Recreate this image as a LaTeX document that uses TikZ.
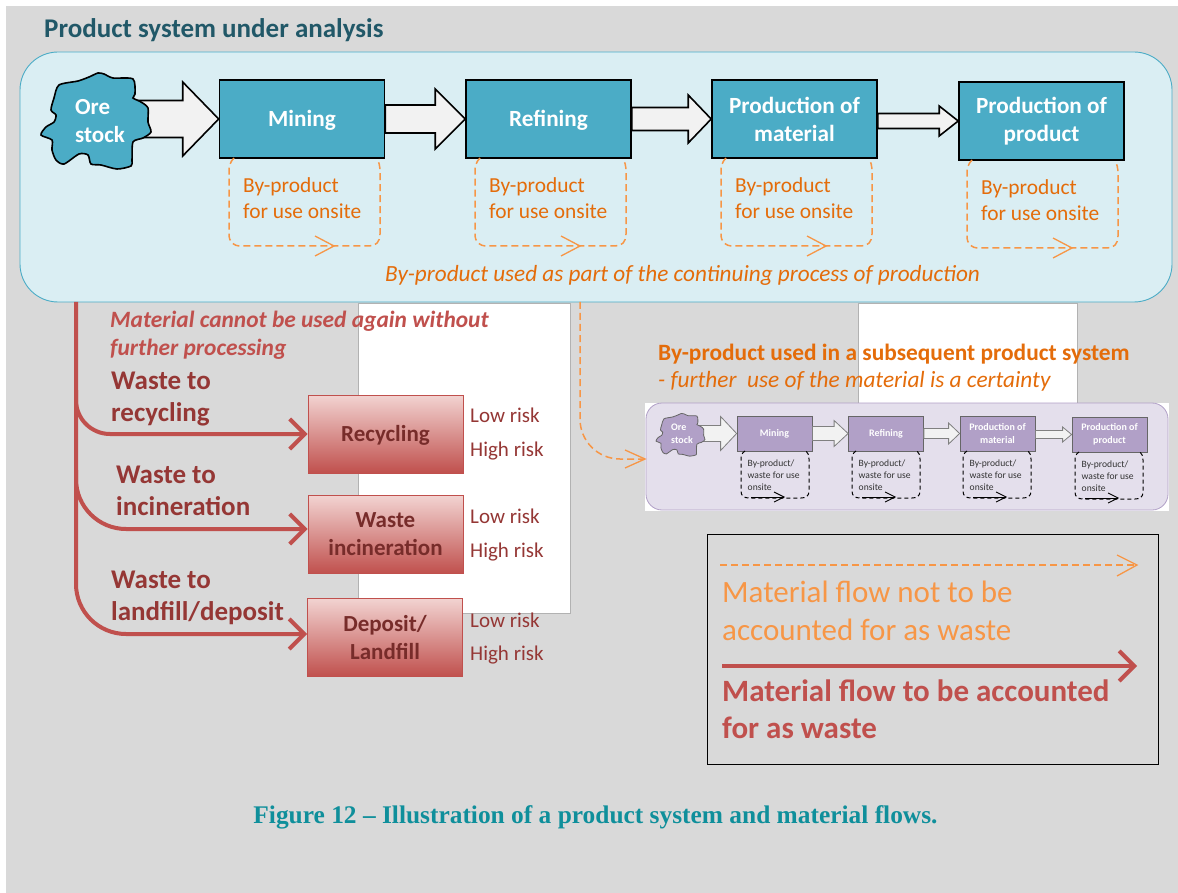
\documentclass[tikz,border=0pt]{standalone}
\usepackage{fontspec}
\usepackage{tikz}
\usetikzlibrary{arrows.meta,calc}
\setmainfont{Carlito}
\newfontfamily\captionfont{Liberation Serif}
\definecolor{panelblue}{HTML}{DAEEF3}
\definecolor{boxblue}{HTML}{4BACC6}
\definecolor{titleteal}{HTML}{215868}
\definecolor{byorange}{HTML}{E46C0A}
\definecolor{flowtan}{HTML}{F79646}
\definecolor{wastered}{HTML}{C0504D}
\definecolor{darkred}{HTML}{953735}
\definecolor{boxred}{HTML}{772C2A}
\definecolor{pinktop}{HTML}{F2D3D1}
\definecolor{panellilac}{HTML}{E4DFEC}
\definecolor{boxlilac}{HTML}{B1A0C7}
\definecolor{captionteal}{HTML}{0F8F9B}

\newcommand{\blockarrow}[6][]{
\draw[#1] let \p1=(#2), \p2=(#3) in
  (\x1, \y2+#4pt) -- (\x2-#6pt, \y2+#4pt) -- (\x2-#6pt, \y2+#5pt) -- (\x2, \y2)
  -- (\x2-#6pt, \y2-#5pt) -- (\x2-#6pt, \y2-#4pt) -- (\x1, \y2-#4pt) -- cycle;
}
\newcommand{\orepath}{plot[smooth cycle, tension=0.45] coordinates {(57,1) (63,2) (72,6) (92,7) (94,22) (92,26) (100,30)
  (107,36) (107,50) (110,60) (102,66) (92,70) (91,88) (90,94) (76,97) (60,93) (50,92) (47,83) (38,82) (23,92)
  (15,88) (11,78) (11,68) (0,63) (5,55) (13,50) (15,43) (10,38) (13,26) (18,13) (37,9) (48,5)}}

\begin{document}
\begin{tikzpicture}[x=1pt, y=-1pt,
  greyback/.style={fill=black!15, draw=none},
  whitesheet/.style={fill=white, draw=black!30, line width=0.6pt},
  processbox/.style={draw=black, line width=1.6pt, fill=boxblue, minimum width=165pt, minimum height=78pt,
    text=white, align=center, font=\fontsize{23.2}{28}\selectfont\bfseries,
    execute at begin node={\rule{0pt}{19pt}}},
  smallbox/.style={draw=black!60, line width=0.8pt, fill=boxlilac, minimum width=75pt, minimum height=35pt,
    text=white, align=center, font=\fontsize{10}{13}\selectfont\bfseries},
  wastebox/.style={draw=wastered, line width=1pt, top color=pinktop, bottom color=wastered, minimum width=155pt,
    minimum height=78pt, text=boxred, align=center, font=\fontsize{23}{28}\selectfont\bfseries},
  bigarrow/.style={draw=black, line width=1.6pt, fill=black!5},
  smallarrow/.style={draw=black!50, line width=0.8pt, fill=black!5},
  bydash/.style={draw=flowtan, line width=1.5pt, dash pattern=on 7pt off 4pt},
  bybarb/.style={draw=flowtan, line width=1.3pt},
  smalldash/.style={draw=black, line width=1pt, dash pattern=on 4pt off 3pt},
  wasteflow/.style={draw=wastered, line width=4pt, -{Straight Barb[length=15pt,width=30pt,line width=4pt]}},
  bytext/.style={anchor=west, align=left, inner sep=0pt, text=byorange, font=\fontsize{21.4}{26}\selectfont},
  smalltext/.style={anchor=west, align=left, inner sep=0pt, text=black!80, font=\fontsize{9.6}{12}\selectfont},
  wastelabel/.style={anchor=west, align=left, inner sep=0pt, text=darkred, font=\fontsize{27}{32.5}\selectfont\bfseries},
  risktext/.style={anchor=west, inner sep=0pt, text=darkred, font=\fontsize{21}{24}\selectfont},
]
\useasboundingbox (0,0) rectangle (1178,893);
\def\loopbig{
\draw[bydash] (5,0) .. controls (1,4) and (0,8) .. (0,14) -- (0,76) .. controls (0,84) and (4,88) .. (12,88)
  -- (140,88) .. controls (147,88) and (151,84) .. (151,76) -- (151,14) .. controls (151,8) and (150,4) .. (148,1);
\draw[bybarb] (86,78) -- (105,88) -- (86,98);
}
\def\loopsmall{
\draw[smalldash] (4,0) .. controls (1,2) and (0,4) .. (0,8) -- (0,40) .. controls (0,45) and (3,47) .. (8,47)
  -- (60,47) .. controls (65,47) and (68,45) .. (68,40) -- (68,8) .. controls (68,4) and (67,2) .. (65,0);
\draw[black, line width=0.9pt] (10,46) -- (43,46);
\draw[black, line width=0.9pt] (33,41) -- (43,46) -- (33,51);
}

\fill[greyback] (6,6) rectangle (1178,893);
\draw[whitesheet] (358,303) rectangle (570,613);
\draw[whitesheet] (858,303) rectangle (1077,403);

% TOP PANEL
\node [anchor=west, inner sep=0pt, text=titleteal, font=\fontsize{27}{30}\selectfont\bfseries] (title) at (44,30) {Product system under analysis};
\draw[draw=boxblue, line width=0.9pt, fill=panelblue, rounded corners=38pt] (20,52) rectangle (1172,302);
\coordinate (panelbottom) at (76,302);
\coordinate (panelexit) at (580,302);

\node [processbox] (mining) at (302,119) {Mining};
\node [processbox] (refining) at (548.5,119) {Refining};
\node [processbox] (material) at (794.5,119) {Production of\\material};
\node [processbox] (product) at (1041.5,121) {Production of\\product};

\coordinate (orecore) at (130,121);
\blockarrow[bigarrow]{orecore}{mining.west}{18.5}{37}{36}
\blockarrow[bigarrow]{mining.east}{refining.west}{14}{30}{30}
\blockarrow[bigarrow]{refining.east}{material.west}{11.5}{24}{23}
\blockarrow[bigarrow]{material.east}{product.west}{7.5}{15}{19}

\begin{scope}[shift={(41,72)}] % ORE STOCK
\draw[line width=1.6pt, fill=boxblue] \orepath;
\node [anchor=west, align=left, inner sep=0pt, text=white, font=\fontsize{23}{28}\selectfont\bfseries] (ore) at (34,49) {Ore\\stock};
\end{scope}

\begin{scope}[shift={(229,158)}] % MINING LOOP
\loopbig
\node [bytext] (bymining) at (14,40) {By-product\\for use onsite};
\end{scope}
\begin{scope}[shift={(475,158)}] % REFINING LOOP
\loopbig
\node [bytext] (byrefining) at (14,40) {By-product\\for use onsite};
\end{scope}
\begin{scope}[shift={(721,158)}] % MATERIAL LOOP
\loopbig
\node [bytext] (bymaterial) at (14,40) {By-product\\for use onsite};
\end{scope}
\begin{scope}[shift={(967,160)}] % PRODUCT LOOP
\loopbig
\node [bytext] (byproduct) at (14,40) {By-product\\for use onsite};
\end{scope}

\node [anchor=west, inner sep=0pt, text=byorange, font=\fontsize{23.2}{26}\selectfont\itshape] (continuing) at (385,275) {By-product used as part of the continuing process of production};

% WASTE FLOWS
\node [wastebox, execute at begin node={\rule{0pt}{19pt}}] (recycling) at (385.5,434) {Recycling};
\node [wastebox] (incineration) at (385.5,534.5) {Waste\\incineration};
\node [wastebox] (landfill) at (385,637.5) {Deposit/\\Landfill};

\coordinate (branchone) at (76,390);
\coordinate (branchtwo) at (76,470);
\draw[wasteflow, rounded corners=34pt] (branchone) |- (recycling.west);
\draw[wasteflow, rounded corners=50pt] (branchtwo) |- ([yshift=5.5pt]incineration.west);
\draw[wasteflow, rounded corners=50pt] (panelbottom) |- ([yshift=3.5pt]landfill.west);

\node [anchor=west, align=left, inner sep=0pt, text=wastered, font=\fontsize{23.4}{28}\selectfont\bfseries\itshape] (notagain) at (110,335) {Material cannot be used again without\\further processing};
\node [wastelabel] (torecycling) at (111,399) {Waste to\\recycling};
\node [wastelabel] (toincineration) at (116,491) {Waste to\\incineration};
\node [wastelabel] (tolandfill) at (111,598) {Waste to\\landfill/deposit};

\node [risktext] (lowone) at (470,415) {Low risk};
\node [risktext] (highone) at (470,451) {High risk};
\node [risktext] (lowtwo) at (470,516) {Low risk};
\node [risktext] (hightwo) at (470,552) {High risk};
\node [risktext] (lowthree) at (470,620) {Low risk};
\node [risktext] (highthree) at (470,655) {High risk};

% SUBSEQUENT SYSTEM
\node [anchor=west, inner sep=0pt, text=byorange, font=\fontsize{23.4}{26}\selectfont\bfseries] (subsequent) at (658,354) {By-product used in a subsequent product system};
\node [anchor=west, inner sep=0pt, text=byorange, font=\fontsize{23.3}{26}\selectfont\itshape] (certainty) at (658,381) {- further\ \ use of the material is a certainty};

\fill[white] (645,403) rectangle (1169,511);
\draw[draw=boxlilac, line width=0.8pt, fill=panellilac, rounded corners=16pt] (646,403) rectangle (1168,510);
\node [smallbox] (smallmining) at (774.5,433.5) {Mining};
\node [smallbox] (smallrefining) at (886,433.5) {Refining};
\node [smallbox] (smallmaterial) at (997.5,433.5) {Production of\\material};
\node [smallbox] (smallproduct) at (1109.5,434.5) {Production of\\product};

\coordinate (smallcore) at (695,434.5);
\blockarrow[smallarrow]{smallcore}{smallmining.west}{8}{17}{16}
\blockarrow[smallarrow]{smallmining.east}{smallrefining.west}{7}{13}{14}
\blockarrow[smallarrow]{smallrefining.east}{smallmaterial.west}{5}{10.5}{11}
\blockarrow[smallarrow]{smallmaterial.east}{smallproduct.west}{4}{7.5}{9}

\begin{scope}[shift={(656,413)}, scale=0.445] % SMALL ORE STOCK
\draw[draw=black!60, line width=0.8pt, fill=boxlilac] \orepath;
\end{scope}
\node [anchor=center, align=left, text=white, font=\fontsize{10}{13}\selectfont\bfseries] (smallore) at (682,434) {Ore\\stock};

\begin{scope}[shift={(741,451)}] % SMALL MINING LOOP
\loopsmall
\node [smalltext] (smallbymining) at (6.5,24) {By-product/\\waste for use\\onsite};
\end{scope}
\begin{scope}[shift={(852,451)}] % SMALL REFINING LOOP
\loopsmall
\node [smalltext] (smallbyrefining) at (6.5,24) {By-product/\\waste for use\\onsite};
\end{scope}
\begin{scope}[shift={(963,451)}] % SMALL MATERIAL LOOP
\loopsmall
\node [smalltext] (smallbymaterial) at (6.5,24) {By-product/\\waste for use\\onsite};
\end{scope}
\begin{scope}[shift={(1075,452)}] % SMALL PRODUCT LOOP
\loopsmall
\node [smalltext] (smallbyproduct) at (6.5,24) {By-product/\\waste for use\\onsite};
\end{scope}

\coordinate (smallentry) at (645,459);
\draw[bydash, rounded corners=40pt] (panelexit) |- (smallentry);
\draw[bybarb] (625,450) -- (smallentry) -- (625,468);

% LEGEND
\draw[black, line width=1pt] (707.5,534.5) rectangle (1158.5,764.5);
\coordinate (tanstart) at (720,565);
\coordinate (tanend) at (1137,565);
\coordinate (redstart) at (722,666);
\coordinate (redend) at (1137,666);
\draw[bydash] (tanstart) -- (tanend);
\draw[bybarb] (1117,555) -- (tanend) -- (1117,576);
\draw[wasteflow] (redstart) -- (redend);
\node [anchor=west, align=left, inner sep=0pt, text=flowtan, font=\fontsize{31}{37.5}\selectfont] (notwaste) at (722,611) {Material flow not to be\\accounted for as waste};
\node [anchor=west, align=left, inner sep=0pt, text=wastered, font=\fontsize{31}{37.5}\selectfont\bfseries] (aswaste) at (722,709) {Material flow to be accounted\\for as waste};

\node [text=captionteal, font=\captionfont\fontsize{25.4}{28}\selectfont\bfseries] (caption) at (595.5,817) {Figure 12 – Illustration of a product system and material flows.};
\end{tikzpicture}
\end{document}
